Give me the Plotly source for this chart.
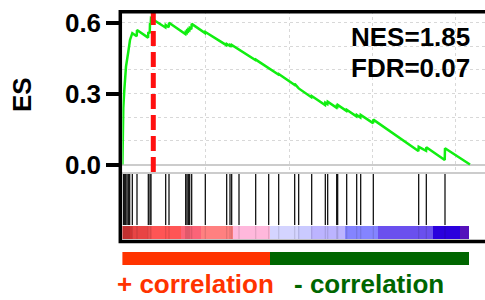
import plotly.graph_objects as go

# ---------------- data ----------------
es_rank = [0, 18, 54, 114, 216, 354, 456, 594, 860, 876, 1540, 1554, 1640, 1656, 1700, 1716,
           2580, 2598, 2780, 2796, 3780, 3798, 3860, 3876, 3940, 3954, 4020, 4038, 4140, 4158,
           4960, 4974, 6240, 6258, 6440, 6456, 6540, 6558, 6980, 6996, 7980, 7998, 8760, 8778,
           9360, 9378, 10320, 10338, 10560, 10578, 11340, 11358, 12160, 12174, 12300, 12318,
           12840, 12858, 12900, 12918, 13440, 13458, 14040, 14058, 14280, 14298, 15040, 15054,
           17760, 17778, 18220, 18234, 19340, 19356, 20856]
es_value = [0.000, 0.104, 0.240, 0.315, 0.414, 0.477, 0.527, 0.556, 0.543, 0.569, 0.537, 0.560, 0.556, 0.598, 0.596, 0.619,
            0.580, 0.590, 0.581, 0.600, 0.552, 0.560, 0.557, 0.566, 0.563, 0.572, 0.569, 0.578, 0.573, 0.595,
            0.556, 0.561, 0.505, 0.510, 0.502, 0.506, 0.502, 0.506, 0.486, 0.488, 0.442, 0.444, 0.407, 0.409,
            0.381, 0.383, 0.337, 0.341, 0.327, 0.322, 0.285, 0.290, 0.252, 0.262, 0.256, 0.266,
            0.241, 0.247, 0.245, 0.252, 0.227, 0.232, 0.204, 0.210, 0.199, 0.210, 0.175, 0.190,
            0.057, 0.075, 0.058, 0.073, 0.019, 0.069, 0.000]

hit_ranks = [54, 114, 198, 276, 354, 438, 594, 876, 1554, 1656, 1716, 2598, 2796, 3798, 3876, 3954,
             4038, 4158, 4974, 6258, 6456, 6558, 6996, 7998, 8778, 9378, 10338, 10578, 11358, 12174,
             12318, 12858, 12918, 13458, 14058, 14298, 15054, 17778, 18234, 19356]

peak_rank = 1854
n_genes = 20850
x_max = 21756

# ranked-list colour bar: segment edges (rank) and colours
cbar_edges = [0, 600, 1554, 3558, 4758, 6636, 8886, 10554, 11358, 13356, 15354, 18654, 20256, 20814]
cbar_colors = ['#d83535', '#e84444', '#ff5555', '#fb6478', '#ff8080', '#ffb8dc', '#d4d4ff',
               '#cacaff', '#bcb4ff', '#8484ff', '#6a50ee', '#2a00dd', '#5511bb']

corr_edges = [0, 8886, 20814]
corr_colors = ['#ff3300', '#006600']
corr_labels = ['+ correlation', '- correlation']

y_ticks = [0.0, 0.3, 0.6]
y_ticktext = ['0.0', '0.3', '0.6']
nes_text = 'NES=1.85'
fdr_text = 'FDR=0.07'

# ---------------- helpers ----------------
W, H = 485, 300
def px(p):
    return p / W
def py(p):
    return 1 - p / H

FONT = 'Liberation Sans, Arial, Helvetica, sans-serif'

fig = go.Figure()

# ES running sum
fig.add_trace(go.Scatter(x=es_rank, y=es_value, mode='lines',
                         line=dict(color='#11ee11', width=2.5),
                         xaxis='x', yaxis='y', hoverinfo='skip'))
# peak marker line
fig.add_trace(go.Scatter(x=[peak_rank, peak_rank], y=[-0.0317, 0.6496], mode='lines',
                         line=dict(color='#ff1010', width=5, dash='15px,6px'),
                         xaxis='x', yaxis='y', hoverinfo='skip'))

# barcode
bx, by = [], []
for r in hit_ranks:
    bx += [r, r, None]
    by += [0, 1, None]
fig.add_trace(go.Scatter(x=bx, y=by, mode='lines', line=dict(color='black', width=1.2),
                         xaxis='x2', yaxis='y2', hoverinfo='skip'))

# ranked list colour bar
cx = [(a + b) / 2 for a, b in zip(cbar_edges[:-1], cbar_edges[1:])]
cw = [b - a for a, b in zip(cbar_edges[:-1], cbar_edges[1:])]
fig.add_trace(go.Bar(x=cx, y=[1] * len(cx), width=cw, base=0,
                     marker=dict(color=cbar_colors, line=dict(width=0)),
                     xaxis='x3', yaxis='y3', hoverinfo='skip'))
fig.add_trace(go.Scatter(x=bx, y=by, mode='lines', line=dict(color='rgba(0,0,0,0.12)', width=1.2),
                         xaxis='x3', yaxis='y3', hoverinfo='skip'))

# correlation bar
kx = [(a + b) / 2 for a, b in zip(corr_edges[:-1], corr_edges[1:])]
kw = [b - a for a, b in zip(corr_edges[:-1], corr_edges[1:])]
fig.add_trace(go.Bar(x=kx, y=[1] * len(kx), width=kw, base=0,
                     marker=dict(color=corr_colors, line=dict(width=0)),
                     xaxis='x4', yaxis='y4', hoverinfo='skip'))

xdom = [px(122.4), 1.0]
grid_col = '#d8d8d8'
hidden_x = dict(domain=xdom, range=[0, x_max], visible=False, fixedrange=True)
hidden_y = dict(range=[0, 1], visible=False, fixedrange=True)

fig.update_layout(
    width=W, height=H, autosize=False,
    margin=dict(l=0, r=0, t=0, b=0, autoexpand=False),
    paper_bgcolor='white', plot_bgcolor='white',
    showlegend=False, bargap=0,
    font=dict(family=FONT, color='black'),
    xaxis=dict(domain=xdom, range=[0, x_max], anchor='y', showticklabels=False, ticks='',
               showgrid=True, dtick=5000, tick0=0, gridcolor=grid_col, griddash='dot', gridwidth=1,
               showline=True, linecolor='#cccccc', linewidth=2, zeroline=False),
    yaxis=dict(domain=[py(172), py(11)], range=[-0.0317, 0.6496], anchor='free', position=px(120.3),
               tickvals=y_ticks, ticktext=y_ticktext, ticks='outside', ticklen=14, tickwidth=3.5,
               tickcolor='black', tickfont=dict(family=FONT, size=26, weight='bold', color='black'),
               showgrid=True, gridcolor=grid_col, griddash='dot', gridwidth=1,
               minor=dict(dtick=0.1, tick0=0, showgrid=True, gridcolor=grid_col, griddash='dot', ticks=''),
               zeroline=True, zerolinecolor='#cccccc', zerolinewidth=2, showline=False),
    xaxis2=dict(hidden_x, anchor='y2'),
    yaxis2=dict(hidden_y, domain=[py(225), py(174)], anchor='x2'),
    xaxis3=dict(hidden_x, anchor='y3'),
    yaxis3=dict(hidden_y, domain=[py(239), py(225.5)], anchor='x3'),
    xaxis4=dict(hidden_x, anchor='y4'),
    yaxis4=dict(hidden_y, domain=[py(265), py(251.7)], anchor='x4'),
)

# outer frame
fig.add_shape(type='rect', xref='paper', yref='paper', x0=px(120.3), x1=1.05,
              y0=py(241.5), y1=py(11.7), line=dict(color='black', width=3.5), layer='above')

big = dict(family=FONT, size=26, weight='bold')
fig.add_annotation(text='ES', x=px(22), y=py(95), xref='paper', yref='paper', textangle=-90,
                   showarrow=False, xanchor='center', yanchor='middle', font=dict(big, color='black'))
fig.add_annotation(text=nes_text, x=px(472), y=py(36.7), xref='paper', yref='paper',
                   showarrow=False, xanchor='right', yanchor='middle', font=dict(big, color='black'))
fig.add_annotation(text=fdr_text, x=px(472), y=py(67.5), xref='paper', yref='paper',
                   showarrow=False, xanchor='right', yanchor='middle', font=dict(big, color='black'))
fig.add_annotation(text=corr_labels[0], x=px(195), y=py(300), xref='paper', yref='paper', borderpad=0,
                   showarrow=False, xanchor='center', yanchor='bottom', font=dict(big, color=corr_colors[0]))
fig.add_annotation(text=corr_labels[1], x=px(369), y=py(300), xref='paper', yref='paper', borderpad=0,
                   showarrow=False, xanchor='center', yanchor='bottom', font=dict(big, color=corr_colors[1]))

page_fix = ("var s=document.documentElement.style;s.margin='0';s.padding='0';s.overflow='hidden';"
            "var b=document.body.style;b.margin='0';b.padding='0';b.overflow='hidden';b.height='300px';")
fig.write_html('out.html', config={'displayModeBar': False, 'responsive': False}, post_script=page_fix)
